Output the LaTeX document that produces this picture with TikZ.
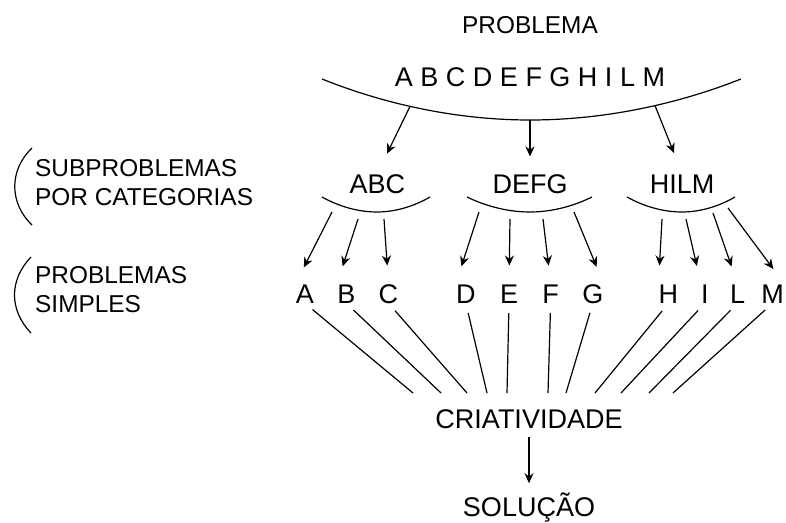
\documentclass[tikz,border=0pt]{standalone}
\usepackage{fontspec}
\setmainfont{Liberation Sans}
\usepackage{tikz}
\usetikzlibrary{arrows.meta,positioning}
\tikzstyle{big} = [draw=none, inner sep=0pt, anchor=base, text height=19.3pt, text depth=0pt, font=\fontsize{27}{32}\selectfont]
\tikzstyle{head} = [draw=none, inner sep=0pt, anchor=base, text height=17.5pt, text depth=0pt, font=\fontsize{24.4}{29}\selectfont]
\tikzstyle{side} = [draw=none, inner sep=0pt, anchor=north west, align=left, font=\fontsize{24.4}{29}\selectfont]
\tikzstyle{bow} = [draw, line width=1.2pt]
\tikzstyle{fan} = [draw, line width=1.2pt, shorten <=10pt]
\tikzstyle{tedge} = [draw, line width=1.2pt, -{Stealth[length=10pt,width=9pt]}, shorten >=18pt]

\begin{document}
\begin{tikzpicture}[x=1pt, y=-1pt]
\useasboundingbox (0,0) rectangle (786,522);

% problem =============================
\node[head] (prob) at (530,33) {PROBLEMA};
\node[big, below=33.7pt of prob] (all) {A B C D E F G H I L M};
\draw[bow] (322,79) parabola bend (530,120) (741,79);

% categories
\node[big] (defg) at (530,193) {DEFG};
\node[big, left=87pt of defg] (abc) {ABC};
\node[big, right=82pt of defg] (hilm) {HILM};

\draw[bow] (322,197) parabola bend (377,212) (430,197);
\draw[bow] (467,197) parabola bend (530,212) (592,197);
\draw[bow] (627,197) parabola bend (682,212) (735,197);

% simple problems
\node[big] (e) at (509,303) {E};
\node[big, left=24pt of e] (d) {D};
\node[big, left=57.5pt of d] (c) {C};
\node[big, left=23pt of c] (b) {B};
\node[big, left=23pt of b] (a) {A};
\node[big, right=24pt of e] (f) {F};
\node[big, right=23pt of f] (g) {G};
\node[big, right=55pt of g] (h) {H};
\node[big, right=22.5pt of h] (i) {I};
\node[big, right=21pt of i] (l) {L};
\node[big, right=16pt of l] (m) {M};

% creativity and solution
\node[big] (cria) at (529,428) {CRIATIVIDADE};
\node[big, below=69pt of cria] (sol) {SOLUÇÃO};

% side notes
\node[side] (sub) at (35,159.5) {SUBPROBLEMAS\\POR CATEGORIAS};
\node[side] (simp) at (35,266.5) {PROBLEMAS\\SIMPLES};
\draw[bow] (32,148) .. controls (9,170) and (9,203) .. (32,225);
\draw[bow] (31,257) .. controls (9,280) and (9,310) .. (31,333);

% arrow starts
\coordinate (s1) at (410,106.4);
\coordinate (s2) at (530,120);
\coordinate (s3) at (655,105.6);

\coordinate (pa) at (332,212);
\coordinate (pb) at (358,219);
\coordinate (pc) at (384,219);
\coordinate (pd) at (479,212);
\coordinate (pe) at (510,219);
\coordinate (pf) at (543,219);
\coordinate (pg) at (574,212);
\coordinate (ph) at (662,219);
\coordinate (pi) at (686,219);
\coordinate (pl) at (713,213);
\coordinate (pm) at (728,208);

% line ends above creativity
\coordinate (ka) at (413,393);
\coordinate (kb) at (441,393);
\coordinate (kc) at (467,393);
\coordinate (kd) at (487,393);
\coordinate (ke) at (507,393);
\coordinate (kf) at (548,393);
\coordinate (kg) at (566,393);
\coordinate (kh) at (595,393);
\coordinate (ki) at (621,393);
\coordinate (kl) at (649,393);
\coordinate (km) at (673,393);

% edges problem to categories
\path[tedge, shorten >=22pt] (s1) -- (abc.north);
\path[tedge, shorten >=17pt] (s2) -- (defg.north);
\path[tedge, shorten >=22pt] (s3) -- (hilm.north);

% edges categories to simple problems
\path[tedge] (pa) -- (a.north west);
\path[tedge] (pb) -- (b.north west);
\path[tedge] (pc) -- (c.north);
\path[tedge] (pd) -- (d.north west);
\path[tedge] (pe) -- (e.north);
\path[tedge] (pf) -- (f.north);
\path[tedge] (pg) -- (g.north east);
\path[tedge] (ph) -- (h.north west);
\path[tedge] (pi) -- (i.north west);
\path[tedge] (pl) -- (l.north);
\path[tedge] (pm) -- (m.north east);

% edges simple problems to creativity
\path[fan] (a.south) -- (ka);
\path[fan] (b.south) -- (kb);
\path[fan] (c.south) -- (kc);
\path[fan] (d.south) -- (kd);
\path[fan] (e.south) -- (ke);
\path[fan] (f.south) -- (kf);
\path[fan] (g.south) -- (kg);
\path[fan] (h.south) -- (kh);
\path[fan] (i.south) -- (ki);
\path[fan] (l.south) -- (kl);
\path[fan] (m.south) -- (km);

% edge creativity to solution
\path[tedge, shorten <=9pt, shorten >=14pt] (cria) -- (sol);

\end{tikzpicture}
\end{document}
